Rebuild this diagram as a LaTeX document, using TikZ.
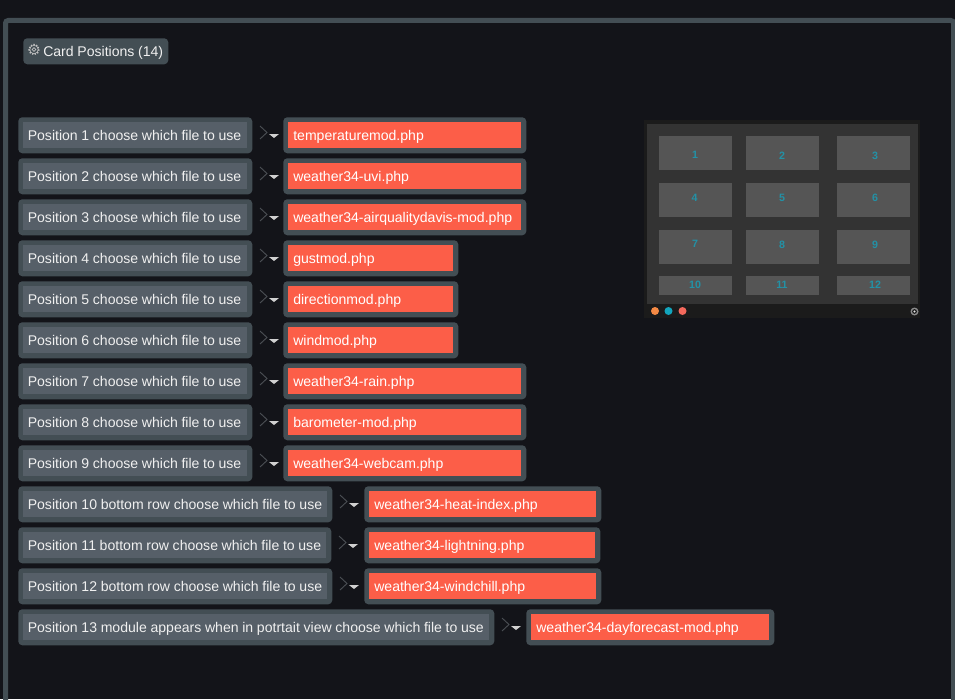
\documentclass[tikz,border=0pt]{standalone}
\usepackage{fontspec}
\setmainfont{Liberation Sans}
\definecolor{pagebg}{HTML}{131419}
\definecolor{edge}{HTML}{434E54}
\definecolor{labelfill}{HTML}{565F68}
\definecolor{filefill}{HTML}{FC5E48}
\definecolor{labeltext}{HTML}{F0F0F0}
\definecolor{chev}{HTML}{4A4E53}
\definecolor{tri}{HTML}{D0D0D0}
\definecolor{thumbdark}{HTML}{1B1B1B}
\definecolor{thumbmid}{HTML}{333333}
\definecolor{thumbcard}{HTML}{555555}
\definecolor{thumbnum}{HTML}{2391A6}
\definecolor{dotorange}{HTML}{F58A45}
\definecolor{dotteal}{HTML}{12A5BD}
\definecolor{dotcoral}{HTML}{F4695C}
\newdimen\pxu \pxu=0.75pt
\tikzset{
  outerbox/.style={anchor=north west,fill=edge,rounded corners=3pt,inner sep=0pt,minimum height=36*\pxu},
  rowtext/.style={anchor=north west,inner xsep=5*\pxu,inner ysep=0pt,minimum height=26*\pxu,
    align=left,text height=9pt,text depth=1.5pt,font=\fontsize{10.55}{13}\selectfont},
  labelbox/.style={rowtext,inner xsep=4.5*\pxu,fill=labelfill,text=labeltext},
  filebox/.style={rowtext,fill=filefill,text=white},
  cardbox/.style={anchor=north west,fill=thumbcard,inner sep=0pt,minimum width=73*\pxu},
  cardnum/.style={inner sep=0pt,text=thumbnum,font=\fontsize{8}{9}\bfseries\selectfont},
  dot/.style={circle,inner sep=0pt,minimum size=8*\pxu}
}
% #1 id, #2 top y, #3 label right edge, #4 label, #5 file left edge, #6 file right edge, #7 file
\newcommand{\posrow}[7]{%
  \node[outerbox,minimum width=(#3-18)*\pxu] (lo#1) at (18,#2) {};
  \node[labelbox,text width=(#3-18-10-9)*\pxu] (la#1) at (23,#2+5) {\mbox{\spaceskip=2.75pt #4}};
  \draw[chev,line width=0.7pt] (#3+8,#2+9) -- (#3+15,#2+15.5) -- (#3+8,#2+22);
  \fill[tri] (#3+17,#2+17) -- (#3+27,#2+17) -- (#3+22,#2+21) -- cycle;
  \node[outerbox,minimum width=(#6-#5)*\pxu] (fo#1) at (#5,#2) {};
  \node[filebox,text width=(#6-#5-10-10)*\pxu] (fi#1) at (#5+5,#2+5) {\mbox{#7}};
}
\begin{document}
\begin{tikzpicture}[x=0.75pt,y=-0.75pt]
\useasboundingbox (0,0) rectangle (955,699);
\clip (0,0) rectangle (955,699);
\fill[pagebg] (0,0) rectangle (955,699);
\draw[edge,line width=5*\pxu,rounded corners=2pt] (5.5,760) -- (5.5,20.5) -- (953.5,20.5) -- (953.5,760);

% header button
\node[anchor=north west,fill=edge,rounded corners=3pt,inner sep=0pt,minimum width=145*\pxu,minimum height=26*\pxu] (btn) at (23,38) {};
\node[anchor=base west,inner sep=0pt,text=labeltext,font=\fontsize{10.55}{13}\selectfont] (btntext) at (43,56) {\spaceskip=2.75pt Card Positions (14)};
\draw[labeltext!80!black,line width=0.45pt] (34,49.5) circle (4.2);
\draw[labeltext!80!black,line width=0.45pt] (34,49.5) circle (1.9);
\draw[labeltext!80!black,line width=1.1pt,dash pattern=on 1pt off 1.1pt] (34,49.5) circle (5);

\posrow{1}{117}{252}{Position 1 choose which file to use}{283}{526}{temperaturemod.php}
\posrow{2}{158}{252}{Position 2 choose which file to use}{283}{526}{weather34-uvi.php}
\posrow{3}{199}{252}{Position 3 choose which file to use}{283}{526}{weather34-airqualitydavis-mod.php}
\posrow{4}{240}{252}{Position 4 choose which file to use}{283}{458}{gustmod.php}
\posrow{5}{281}{252}{Position 5 choose which file to use}{283}{458}{directionmod.php}
\posrow{6}{322}{252}{Position 6 choose which file to use}{283}{458}{windmod.php}
\posrow{7}{363}{252}{Position 7 choose which file to use}{283}{526}{weather34-rain.php}
\posrow{8}{404}{252}{Position 8 choose which file to use}{283}{526}{barometer-mod.php}
\posrow{9}{445}{252}{Position 9 choose which file to use}{283}{526}{weather34-webcam.php}
\posrow{10}{486}{332}{Position 10 bottom row choose which file to use}{364}{601}{weather34-heat-index.php}
\posrow{11}{527}{331}{Position 11 bottom row choose which file to use}{364}{600}{weather34-lightning.php}
\posrow{12}{568}{332}{Position 12 bottom row choose which file to use}{364}{601}{weather34-windchill.php}
\posrow{13}{609}{494}{Position 13 module appears when in potrtait view choose which file to use}{526}{774}{weather34-dayforecast-mod.php}

% thumbnail
\fill[thumbdark] (644,120) rectangle (920,318);
\fill[thumbmid] (647,123.5) rectangle (917.5,304);
\foreach \colx/\nA/\nB/\nC/\nD in {659/1/4/7/10,746/2/5/8/11,837/3/6/9/12}{
  \node[cardbox,minimum height=34*\pxu] (card\nA) at (\colx,136) {};
  \node[cardbox,minimum height=34*\pxu] (card\nB) at (\colx,183) {};
  \node[cardbox,minimum height=34*\pxu] (card\nC) at (\colx,230) {};
  \node[cardbox,minimum height=19*\pxu] (card\nD) at (\colx,276) {};
}
\foreach \n/\nx/\ny in {1/695/155,2/782/156,3/875/156,4/694.5/197.5,5/782/198,6/875/198,7/695/244,8/782/244.5,9/875/244.5,10/695/285,11/782/285,12/875/285}{
  \node[cardnum] (num\n) at (\nx,\ny) {\n};
}
\node[dot,fill=dotorange] (dota) at (655,311) {};
\node[dot,fill=dotteal] (dotb) at (668.5,311) {};
\node[dot,fill=dotcoral] (dotc) at (682.5,311) {};
\node[dot,fill=white!55!black] (doti) at (914.5,311.5) {};
\fill[thumbdark] (914.5,311.5) circle (2.4);
\fill[white!90!black] (914.5,311.5) circle (1.2);
\end{tikzpicture}
\end{document}
